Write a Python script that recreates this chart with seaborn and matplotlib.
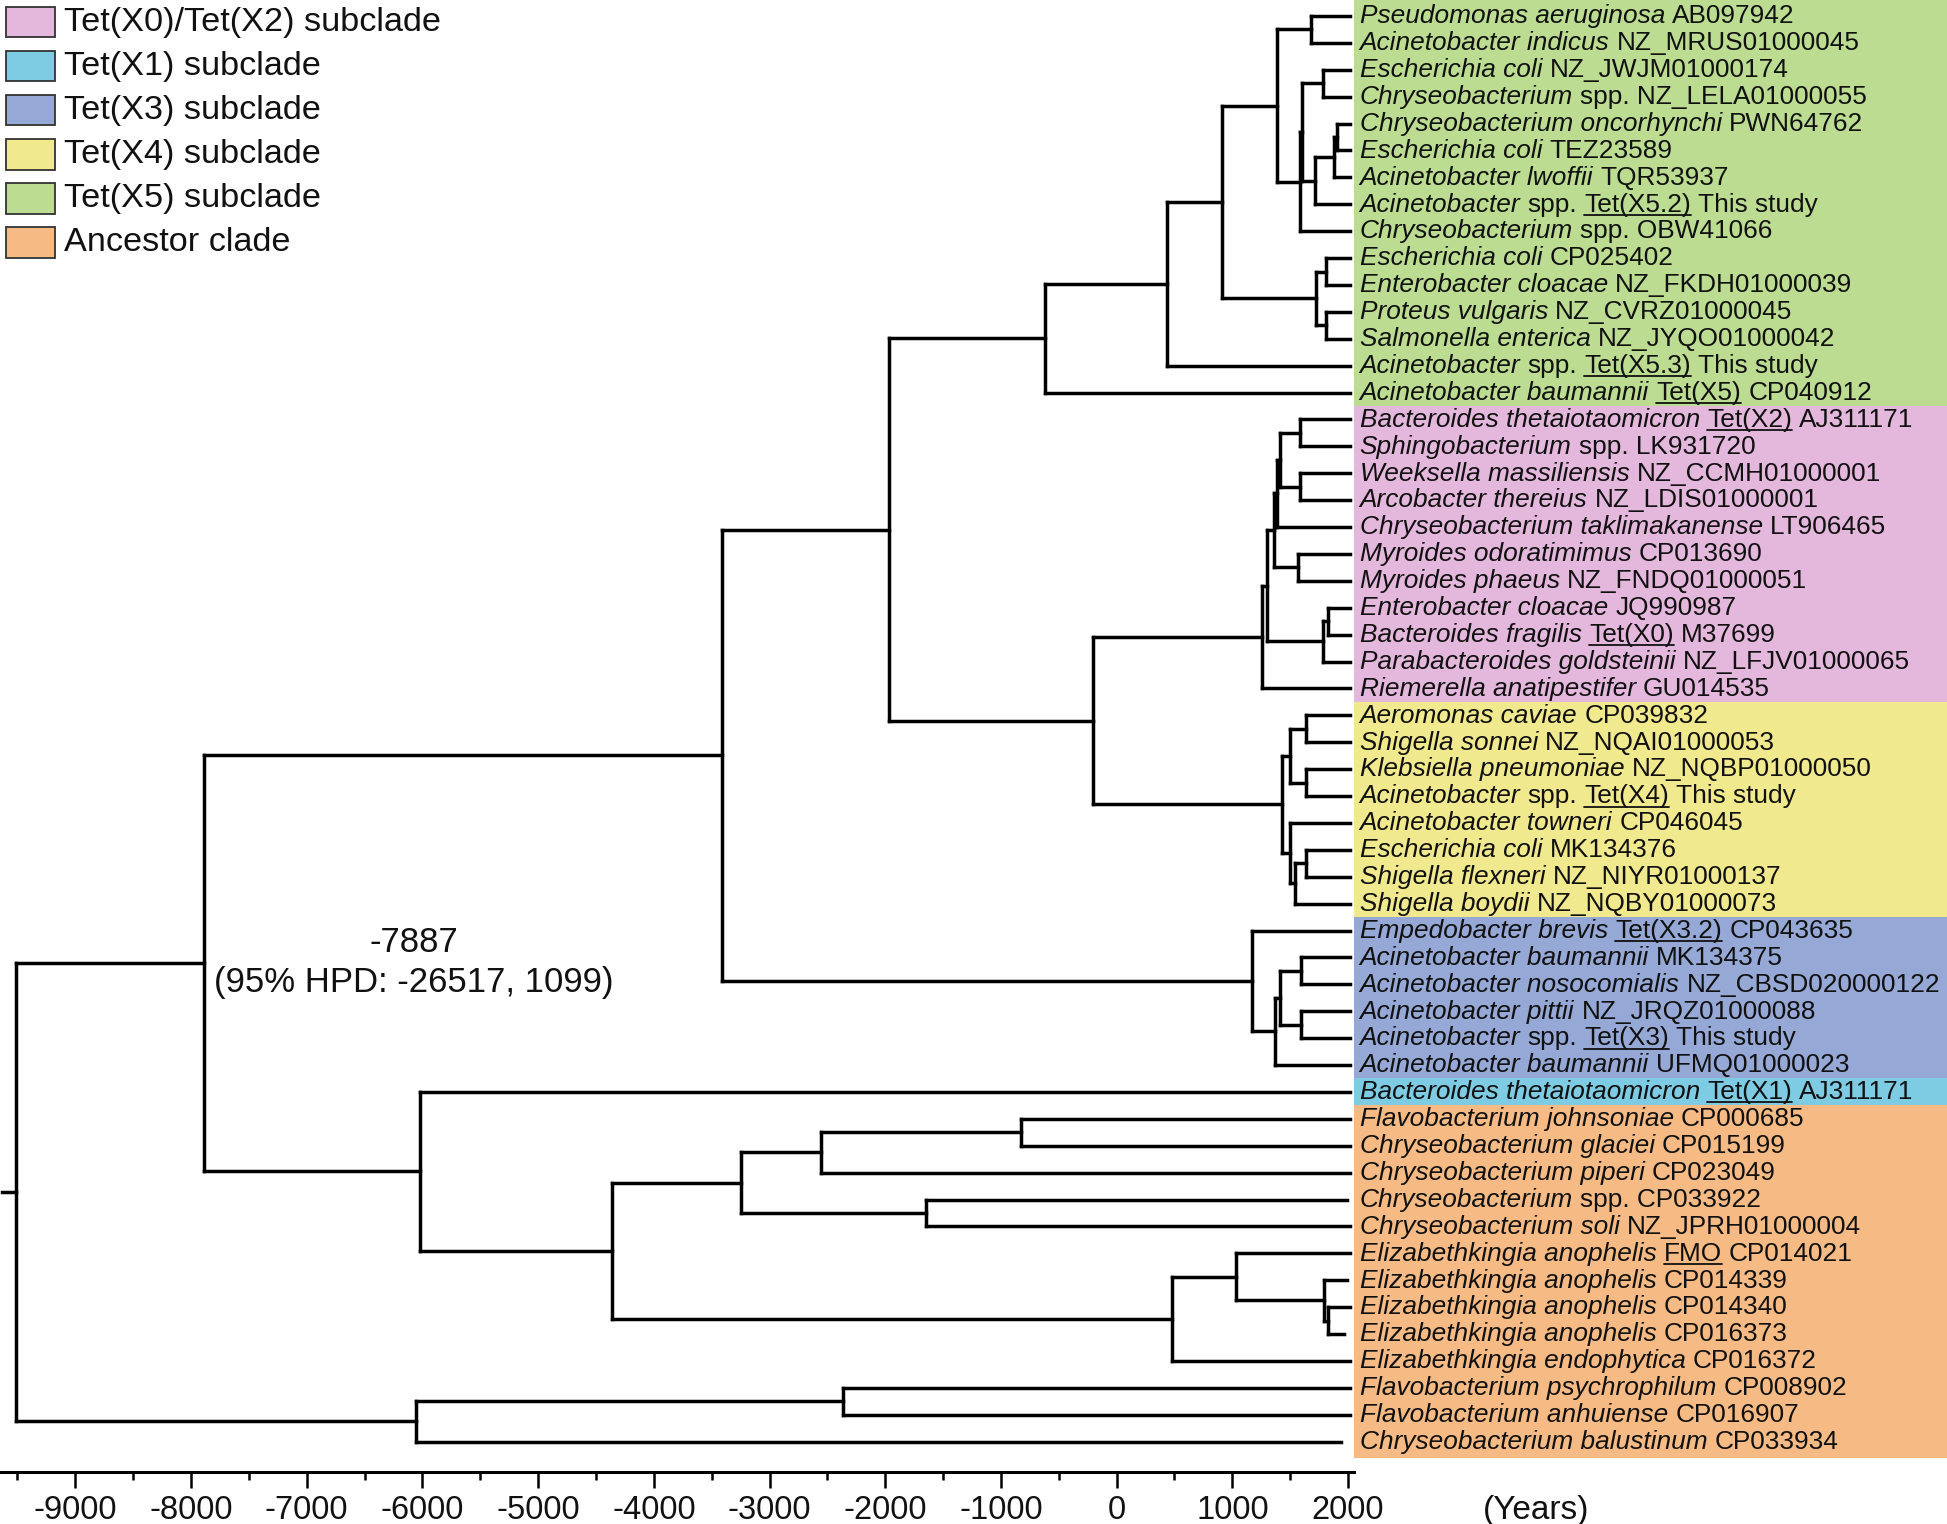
import re

import matplotlib

matplotlib.use("Agg")
import matplotlib.pyplot as plt
import pandas as pd
import seaborn as sns
from matplotlib.lines import Line2D
from matplotlib.patches import Rectangle
from matplotlib.ticker import FixedLocator
from matplotlib.transforms import IdentityTransform

# ---- data -------------------------------------------------------------
# *...* = italic, [...] = underlined, rest plain
tip_labels = [
    "*Pseudomonas aeruginosa* AB097942",
    "*Acinetobacter indicus* NZ_MRUS01000045",
    "*Escherichia coli* NZ_JWJM01000174",
    "*Chryseobacterium* spp. NZ_LELA01000055",
    "*Chryseobacterium oncorhynchi* PWN64762",
    "*Escherichia coli* TEZ23589",
    "*Acinetobacter lwoffii* TQR53937",
    "*Acinetobacter* spp. [Tet(X5.2)] This study",
    "*Chryseobacterium* spp. OBW41066",
    "*Escherichia coli* CP025402",
    "*Enterobacter cloacae* NZ_FKDH01000039",
    "*Proteus vulgaris* NZ_CVRZ01000045",
    "*Salmonella enterica* NZ_JYQO01000042",
    "*Acinetobacter* spp. [Tet(X5.3)] This study",
    "*Acinetobacter baumannii* [Tet(X5)] CP040912",
    "*Bacteroides thetaiotaomicron* [Tet(X2)] AJ311171",
    "*Sphingobacterium* spp. LK931720",
    "*Weeksella massiliensis* NZ_CCMH01000001",
    "*Arcobacter thereius* NZ_LDIS01000001",
    "*Chryseobacterium taklimakanense* LT906465",
    "*Myroides odoratimimus* CP013690",
    "*Myroides phaeus* NZ_FNDQ01000051",
    "*Enterobacter cloacae* JQ990987",
    "*Bacteroides fragilis* [Tet(X0)] M37699",
    "*Parabacteroides goldsteinii* NZ_LFJV01000065",
    "*Riemerella anatipestifer* GU014535",
    "*Aeromonas caviae* CP039832",
    "*Shigella sonnei* NZ_NQAI01000053",
    "*Klebsiella pneumoniae* NZ_NQBP01000050",
    "*Acinetobacter* spp. [Tet(X4)] This study",
    "*Acinetobacter towneri* CP046045",
    "*Escherichia coli* MK134376",
    "*Shigella flexneri* NZ_NIYR01000137",
    "*Shigella boydii* NZ_NQBY01000073",
    "*Empedobacter brevis* [Tet(X3.2)] CP043635",
    "*Acinetobacter baumannii* MK134375",
    "*Acinetobacter nosocomialis* NZ_CBSD020000122",
    "*Acinetobacter pittii* NZ_JRQZ01000088",
    "*Acinetobacter* spp. [Tet(X3)] This study",
    "*Acinetobacter baumannii* UFMQ01000023",
    "*Bacteroides thetaiotaomicron* [Tet(X1)] AJ311171",
    "*Flavobacterium johnsoniae* CP000685",
    "*Chryseobacterium glaciei* CP015199",
    "*Chryseobacterium piperi* CP023049",
    "*Chryseobacterium* spp. CP033922",
    "*Chryseobacterium soli* NZ_JPRH01000004",
    "*Elizabethkingia anophelis* [FMO] CP014021",
    "*Elizabethkingia anophelis* CP014339",
    "*Elizabethkingia anophelis* CP014340",
    "*Elizabethkingia anophelis* CP016373",
    "*Elizabethkingia endophytica* CP016372",
    "*Flavobacterium psychrophilum* CP008902",
    "*Flavobacterium anhuiense* CP016907",
    "*Chryseobacterium balustinum* CP033934",
]

TIP_YEAR = 2015
tip_year_overrides = {44: 1990, 47: 1990, 49: 1965, 53: 1940}

# internal nodes: name, age (years), children (tip index or node name)
node_names = [
    "g_pa", "g_ec", "g_a", "g_b", "g_c", "g_d", "g_e", "g_f",
    "g_h1", "g_h2", "g_h", "g_g", "g_i", "green",
    "p_a", "p_b", "p_c", "p_d", "p_m", "p_e", "p_f", "p_g", "p_h", "pink",
    "y_a", "y_b", "y_c", "y_d", "y_e", "y_f", "yellow",
    "b_a", "b_b", "b_c", "b_d", "blue",
    "py", "gpy", "gpyb",
    "o_a", "o_b", "o_c", "o_d", "o_e1", "o_e2", "o_e3", "o_e", "o_f", "co",
    "n7887", "fl_a", "fl", "root",
]
node_years = [
    1683, 1786, 1907, 1878, 1714, 1605, 1582, 1383,
    1806, 1812, 1720, 907, 438, -615,
    1582, 1582, 1412, 1383, 1567, 1360, 1826, 1786, 1296, 1259,
    1634, 1639, 1498, 1634, 1541, 1498, 1432,
    1590, 1596, 1412, 1366, 1172,
    -205, -1965, -3414,
    -827, -2558, -1647, -3245, 1830, 1793, 1036, 481, -4362, -6018,
    -7887, -2367, -6058, -9510,
]
node_children = [
    (0, 1), (2, 3), (4, 5), ("g_a", 6), ("g_b", 7), ("g_ec", "g_c"), ("g_d", 8), ("g_pa", "g_e"),
    (9, 10), (11, 12), ("g_h1", "g_h2"), ("g_f", "g_h"), ("g_g", 13), ("g_i", 14),
    (15, 16), (17, 18), ("p_a", "p_b"), ("p_c", 19), (20, 21), ("p_d", "p_m"), (22, 23),
    ("p_f", 24), ("p_e", "p_g"), ("p_h", 25),
    (26, 27), (28, 29), ("y_a", "y_b"), (31, 32), ("y_d", 33), (30, "y_e"), ("y_c", "y_f"),
    (35, 36), (37, 38), ("b_a", "b_b"), ("b_c", 39), (34, "b_d"),
    ("pink", "yellow"), ("green", "py"), ("gpy", "blue"),
    (41, 42), ("o_a", 43), (44, 45), ("o_b", "o_c"), (48, 49), (47, "o_e1"), (46, "o_e2"),
    ("o_e3", 50), ("o_d", "o_e"), (40, "o_f"),
    ("gpyb", "co"), (51, 52), ("fl_a", 53), ("n7887", "fl"),
]
ROOT_STUB = -9630

# coloured label bands (first row, last row)
band_colors = ["#BCDC92", "#E4B8DC", "#F1E98E", "#96A8D6", "#7DCCE4", "#F6BA84"]
band_rows = [(-0.6, 14.5), (14.5, 25.5), (25.5, 33.5), (33.5, 39.5), (39.5, 40.5), (40.5, 53.6)]

legend_labels = [
    "Tet(X0)/Tet(X2) subclade",
    "Tet(X1) subclade",
    "Tet(X3) subclade",
    "Tet(X4) subclade",
    "Tet(X5) subclade",
    "Ancestor clade",
]
legend_colors = ["#E4B8DC", "#7DCCE4", "#96A8D6", "#F1E98E", "#BCDC92", "#F6BA84"]

major_ticks = [-9000, -8000, -7000, -6000, -5000, -4000, -3000, -2000, -1000, 0, 1000, 2000]
minor_ticks = [-9500, -8500, -7500, -6500, -5500, -4500, -3500, -2500, -1500, -500, 500, 1500]

# ---- style ------------------------------------------------------------
sns.set_theme(style="white")
plt.rcParams["font.family"] = ["Liberation Sans", "DejaVu Sans"]
plt.rcParams["axes.unicode_minus"] = False

W, H = 1947, 1524
fig = plt.figure(figsize=(W / 100, H / 100), dpi=100)
ax = fig.add_axes([0, 52 / H, 1, 1472 / H])
ax.set_xlim(-9651, 7177)
ax.set_ylim(54.13, -0.595)

# ---- background bands -------------------------------------------------
BAND_X0 = 2055
for (r0, r1), col in zip(band_rows, band_colors):
    ax.barh((r0 + r1) / 2, 7177 - BAND_X0, height=r1 - r0, left=BAND_X0,
            color=col, edgecolor="none", zorder=0)

# ---- tree layout ------------------------------------------------------
pos_x, pos_y, parent = {}, {}, {}
for i in range(len(tip_labels)):
    pos_x[i] = tip_year_overrides.get(i, TIP_YEAR)
    pos_y[i] = float(i)
for name, yr, (a, b) in zip(node_names, node_years, node_children):
    pos_x[name] = yr
    pos_y[name] = (pos_y[a] + pos_y[b]) / 2
    parent[a] = name
    parent[b] = name

segs = []
sid = 0
for key in pos_x:
    if key in parent:
        p = parent[key]
        segs += [(sid, pos_x[p], pos_y[key]), (sid, pos_x[key], pos_y[key])]
        sid += 1
for name, (a, b) in zip(node_names, node_children):
    segs += [(sid, pos_x[name], pos_y[a]), (sid, pos_x[name], pos_y[b])]
    sid += 1
segs += [(sid, ROOT_STUB, pos_y["root"]), (sid, pos_x["root"], pos_y["root"])]
seg_df = pd.DataFrame(segs, columns=["seg", "x", "y"])

sns.lineplot(data=seg_df, x="x", y="y", units="seg", estimator=None, sort=False,
             color="black", linewidth=2.5, solid_capstyle="projecting",
             legend=False, ax=ax, zorder=3)
ax.set_xlabel("")
ax.set_ylabel("")
ax.set_ylim(54.13, -0.595)
ax.set_xlim(-9651, 7177)

# ---- axis -------------------------------------------------------------
for s in ["left", "right", "top"]:
    ax.spines[s].set_visible(False)
ax.spines["bottom"].set_bounds(-9651, 2050)
ax.spines["bottom"].set_linewidth(2.2)
ax.spines["bottom"].set_color("black")
ax.xaxis.set_major_locator(FixedLocator(major_ticks))
ax.xaxis.set_minor_locator(FixedLocator(minor_ticks))
ax.set_xticklabels([str(t) for t in major_ticks])
ax.tick_params(axis="x", which="major", bottom=True, direction="out", length=11.5,
               width=1.8, color="black", labelsize=23.5, pad=5, labelcolor="#111111")
ax.tick_params(axis="x", which="minor", bottom=True, direction="out", length=6,
               width=1.8, color="black")
ax.set_yticks([])
ax.grid(False)

fig.text(1536 / W, 1 - 1510 / H, "(Years)", ha="center", va="center",
         fontsize=24, color="#111111")

ax.text(-6075, 34.45, "-7887", ha="center", va="center", fontsize=25, color="#111111")
ax.text(-6075, 35.95, "(95% HPD: -26517, 1099)", ha="center", va="center",
        fontsize=25, color="#111111")

# ---- tip labels (mixed italic / underlined) ---------------------------
renderer = fig.canvas.get_renderer()
LABEL_X = 2100
FS = 18.9
space_w = 0.278 * FS * 100 / 72
ident = IdentityTransform()

for i, markup in enumerate(tip_labels):
    x, yc = ax.transData.transform((LABEL_X, i))
    base = yc - 7.3
    for tok in re.findall(r"\*[^*]+\*|\[[^\]]+\]|[^*\[]+", markup):
        if tok.startswith("*"):
            style, txt = "italic", tok[1:-1]
        elif tok.startswith("["):
            style, txt = "under", tok[1:-1]
        else:
            style, txt = "plain", tok
        if txt.startswith(" "):
            x += space_w
        t = txt.strip()
        if not t:
            continue
        art = fig.text(x, base, t, transform=ident, fontsize=FS, va="baseline", ha="left",
                       fontstyle="italic" if style == "italic" else "normal",
                       color="#111111", zorder=5)
        ext = art.get_window_extent(renderer=renderer)
        if style == "under":
            fig.add_artist(Line2D([ext.x0, ext.x1], [base - 3.2, base - 3.2],
                                  transform=ident, color="#111111", linewidth=1.3))
        x = ext.x1
        if txt.endswith(" "):
            x += space_w

# ---- legend -----------------------------------------------------------
for k, (lab, col) in enumerate(zip(legend_labels, legend_colors)):
    top = 6.5 + 44.1 * k
    fig.add_artist(Rectangle((5.7, H - top - 30.7), 49.3, 30.7, transform=ident,
                             facecolor=col, edgecolor="#333333", linewidth=1.3))
    fig.text(64, H - top - 15.5, lab, transform=ident, fontsize=24.7, ha="left",
             va="center", color="#111111")

fig.savefig("out.png", dpi=100)
